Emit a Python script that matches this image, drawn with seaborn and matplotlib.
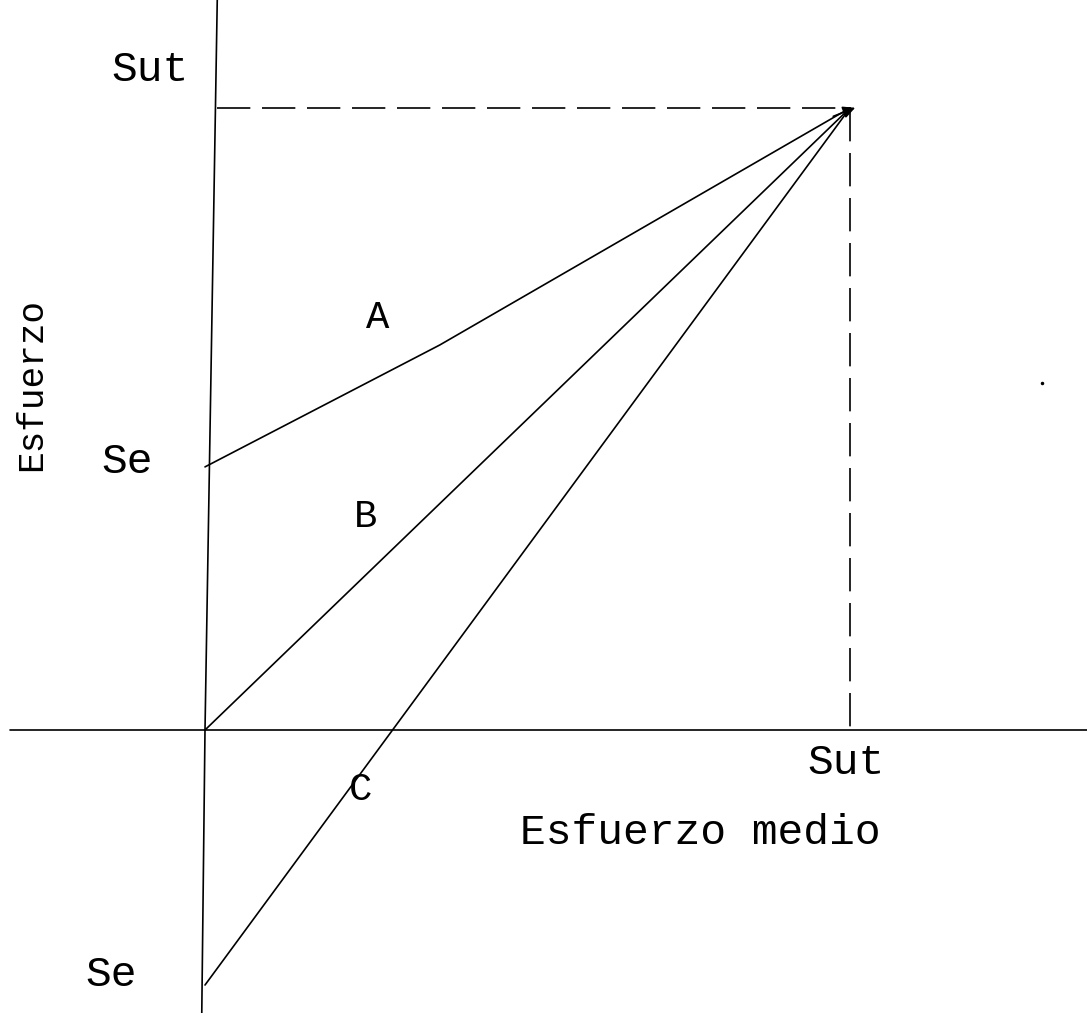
import matplotlib
matplotlib.use("Agg")
import matplotlib.pyplot as plt
import seaborn as sns
import numpy as np

sns.set_theme(style="white")
plt.rcParams['font.family'] = ['Liberation Mono', 'DejaVu Sans Mono']

# --- data (normalised: Sut = 1) ---
sut = 1.0
se = 0.423
se_neg = -0.41

line_a_x = [0.0, 0.364, sut]
line_a_y = [se, 0.619, sut]
line_b_x = [0.0, sut]
line_b_y = [0.0, sut]
line_c_x = [0.0, sut]
line_c_y = [se_neg, sut]

W, H = 1087, 1013
ox, oy = 205, 730       # origin pixel
sx, sy = 645, 622       # pixels per unit

fig = plt.figure(figsize=(W / 100, H / 100), dpi=100)
ax = fig.add_axes([0, 0, 1, 1])
ax.set_xlim(-ox / sx, (W - ox) / sx)
ax.set_ylim(-(H - oy) / sy, oy / sy)
ax.axis('off')

lw = 1.2
k = 'black'
# axes lines
sns.lineplot(x=[0.019, 0.0, -0.005], y=[oy / sy, 0.0, -(H - oy) / sy], sort=False,
             estimator=None, color=k, lw=lw, ax=ax)
sns.lineplot(x=[-195 / sx, (W - ox) / sx], y=[0, 0], sort=False,
             estimator=None, color=k, lw=lw, ax=ax)

# criterion lines
for xs, ys in [(line_a_x, line_a_y), (line_b_x, line_b_y), (line_c_x, line_c_y)]:
    sns.lineplot(x=xs, y=ys, sort=False, estimator=None, color=k, lw=lw, ax=ax)

# dashed guides
ax.plot([0.018, sut], [sut, sut], color=k, lw=lw, dashes=(20, 7))
ax.plot([sut, sut], [sut, 0], color=k, lw=lw, dashes=(20, 7))
ax.annotate('', xy=(sut + 0.012, sut + 0.002), xytext=(sut - 0.03, sut - 0.015),
            arrowprops=dict(arrowstyle='-|>', color=k, lw=lw, mutation_scale=18))

def px(x, y):
    return (x - ox) / sx, (oy - y) / sy

fs = 31
txt = [
    ("Sut", 150, 70, fs), ("Se", 127, 462, fs), ("Se", 111, 975, fs),
    ("Sut", 846, 763, fs), ("Esfuerzo medio", 700, 833, fs),
    ("A", 378, 318, 28), ("B", 366, 517, 28), ("C", 361, 790, 28),
]
for s, x, y, f in txt:
    ax.text(*px(x, y), s, ha='center', va='center', fontsize=f, color=k)
ax.text(*px(32, 384), "Esfuerzo", ha='center', va='center', fontsize=26,
        color=k, rotation=90)
ax.plot(*px(1042, 383), marker='.', ms=3, color=k)

fig.savefig("out.png", dpi=100, facecolor='white')
